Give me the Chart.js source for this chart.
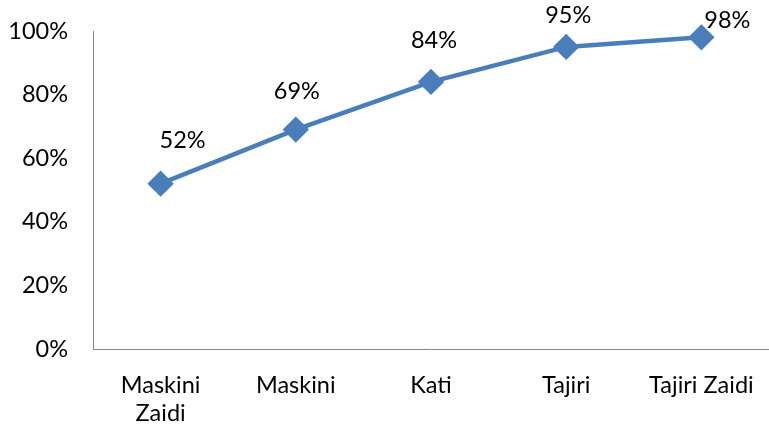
<!DOCTYPE html>
<html><head><meta charset="utf-8">
<script src="https://cdn.jsdelivr.net/npm/chart.js@4"></script>
<style>html,body{margin:0;padding:0;background:#fff;overflow:hidden}#wrap{position:relative;width:769px;height:424px}canvas{display:block}</style>
</head><body><div id="wrap"><canvas id="c"></canvas></div>
<script>
const categories = [["Maskini","Zaidi"], "Maskini", "Kati", "Tajiri", "Tajiri Zaidi"];
const values = [52, 69, 84, 95, 98];
const yTicks = [0, 20, 40, 60, 80, 100];

const FONT = "Lato";
const FS = 23.5;
const labelShift = [[22,-43],[1,-38],[3,-41],[2,-31],[26,-17]];

const valueLabels = {
  id: 'valueLabels',
  afterDatasetsDraw(chart) {
    const ctx = chart.ctx;
    const meta = chart.getDatasetMeta(0);
    ctx.save();
    ctx.font = FS + 'px ' + FONT;
    ctx.fillStyle = '#000';
    ctx.textAlign = 'center';
    ctx.textBaseline = 'middle';
    meta.data.forEach((pt, i) => {
      const s = labelShift[i];
      ctx.fillText(values[i] + '%', pt.x + s[0], pt.y + s[1]);
    });
    ctx.restore();
  }
};

function noPad(s) { s.paddingLeft = 0; s.paddingRight = 0; s.paddingTop = 0; s.paddingBottom = 0; }

new Chart(document.getElementById('c'), {
  type: 'line',
  data: {
    labels: categories,
    datasets: [{
      data: values,
      borderColor: '#4A7EBB',
      backgroundColor: '#4A7EBB',
      borderWidth: 4.5,
      pointStyle: 'rectRot',
      pointRadius: 10,
      pointHoverRadius: 10,
      tension: 0,
      fill: false,
      clip: false
    }]
  },
  options: {
    responsive: true,
    maintainAspectRatio: false,
    animation: false,
    events: [],
    layout: { autoPadding: false, padding: { top: 31, right: 0, left: 0, bottom: 0 } },
    plugins: { legend: { display: false }, tooltip: { enabled: false } },
    scales: {
      x: {
        offset: true,
        grid: { display: false, drawTicks: false },
        border: { color: '#868686', width: 1 },
        ticks: { color: '#000', font: { family: FONT, size: FS }, padding: 22, maxRotation: 0, autoSkip: false },
        afterFit(s) { s.height = 75; noPad(s); }
      },
      y: {
        min: 0, max: 100,
        afterBuildTicks(s) { s.ticks = yTicks.map(v => ({ value: v })); },
        grid: { display: false, drawTicks: false },
        border: { color: '#868686', width: 1 },
        ticks: { color: '#000', font: { family: FONT, size: FS }, padding: 25, callback: v => v + '%' },
        afterFit(s) { s.width = 93; noPad(s); }
      }
    }
  },
  plugins: [valueLabels]
});
</script>
</body></html>
